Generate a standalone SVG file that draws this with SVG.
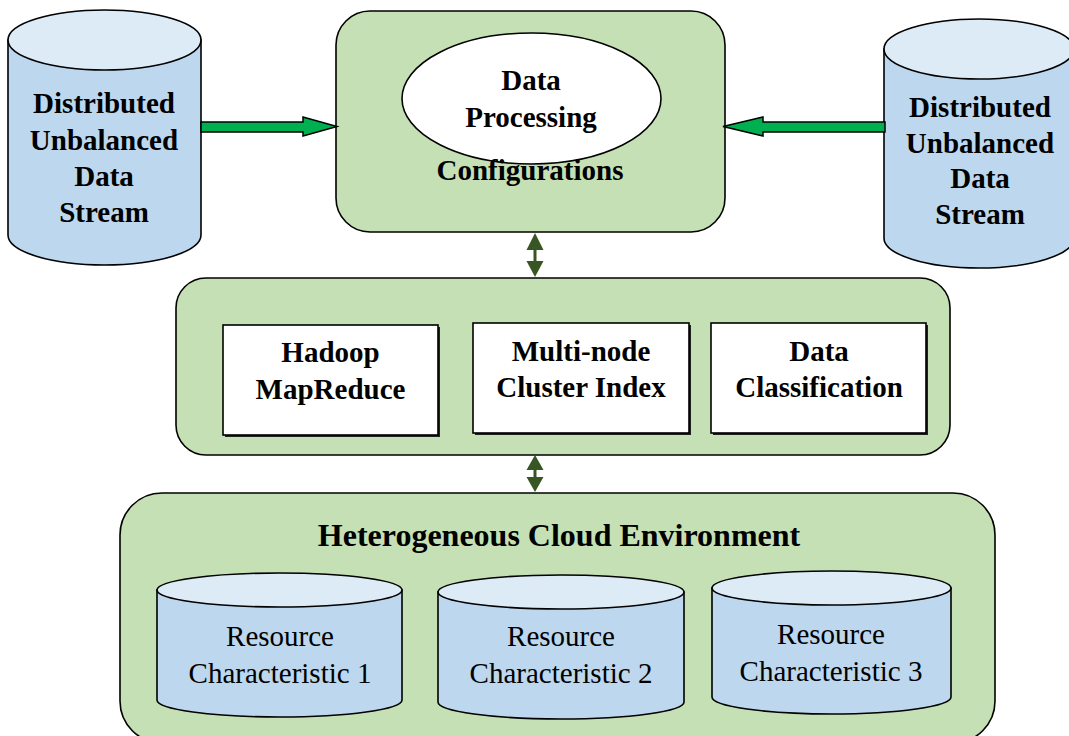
<svg xmlns="http://www.w3.org/2000/svg" width="1069" height="736" viewBox="0 0 1069 736">
  <style>
    .panel { fill: #c5e0b4; stroke: #000; stroke-width: 1.6; }
    .box { fill: #fff; stroke: #000; stroke-width: 1.6; }
    .shadow { fill: #222; }
    .cyl-body { fill: #bdd7ee; stroke: #000; stroke-width: 1.6; }
    .cyl-top { fill: #ddebf7; stroke: #000; stroke-width: 1.6; }
    .bold { font-family: "Liberation Serif", "Times New Roman", serif; font-weight: bold; font-size: 29px; fill: #000; text-anchor: middle; }
    .reg { font-family: "Liberation Serif", "Times New Roman", serif; font-size: 29px; fill: #000; text-anchor: middle; }
    .flow { fill: #00b050; stroke: #000; stroke-width: 1.5; stroke-linejoin: miter; }
    .link { fill: #375623; }
  </style>

  <!-- left data stream source -->
  <g id="stream-left">
    <path class="cyl-body" d="M8,40 V235 A96.5,30 0 0 0 201,235 V40 Z"/>
    <ellipse class="cyl-top" cx="104.5" cy="40" rx="96.5" ry="30"/>
    <text class="bold" x="104" y="113">Distributed</text>
    <text class="bold" x="104" y="150">Unbalanced</text>
    <text class="bold" x="104" y="186">Data</text>
    <text class="bold" x="104" y="222">Stream</text>
  </g>

  <!-- right data stream source -->
  <g id="stream-right">
    <path class="cyl-body" d="M884,49 V238 A95,30 0 0 0 1074,238 V49 Z"/>
    <ellipse class="cyl-top" cx="979" cy="49" rx="95" ry="30"/>
    <text class="bold" x="980" y="117">Distributed</text>
    <text class="bold" x="980" y="153">Unbalanced</text>
    <text class="bold" x="980" y="188">Data</text>
    <text class="bold" x="980" y="224">Stream</text>
  </g>

  <!-- configurations panel -->
  <g id="configurations">
    <rect class="panel" x="336" y="11" width="389" height="221" rx="34"/>
    <ellipse class="box" cx="531.5" cy="98.5" rx="129.5" ry="65.5"/>
    <text class="bold" x="531" y="90">Data</text>
    <text class="bold" x="531" y="127">Processing</text>
    <text class="bold" x="530" y="180">Configurations</text>
  </g>

  <!-- processing layer -->
  <g id="processing">
    <rect class="panel" x="176" y="278" width="774" height="177" rx="30"/>
  </g>
  <g id="hadoop">
    <rect class="shadow" x="225" y="327" width="215" height="110"/>
    <rect class="box" x="223" y="325" width="215" height="110"/>
    <text class="bold" x="330.5" y="362">Hadoop</text>
    <text class="bold" x="330.5" y="399">MapReduce</text>
  </g>
  <g id="cluster-index">
    <rect class="shadow" x="475" y="325" width="216" height="110"/>
    <rect class="box" x="473" y="323" width="216" height="110"/>
    <text class="bold" x="581" y="361">Multi-node</text>
    <text class="bold" x="581" y="397">Cluster Index</text>
  </g>
  <g id="classification">
    <rect class="shadow" x="713" y="325" width="215" height="110"/>
    <rect class="box" x="711" y="323" width="215" height="110"/>
    <text class="bold" x="819" y="361">Data</text>
    <text class="bold" x="819" y="397">Classification</text>
  </g>

  <!-- cloud environment -->
  <g id="cloud">
    <rect class="panel" x="120" y="493" width="875" height="250" rx="42"/>
    <text class="bold" x="559" y="546" style="font-size:32px">Heterogeneous Cloud Environment</text>
  </g>
  <g id="resource-1">
    <path class="cyl-body" d="M157,590 V700 A122.5,17 0 0 0 402,700 V590 Z"/>
    <ellipse class="cyl-top" cx="279.5" cy="590" rx="122.5" ry="17"/>
    <text class="reg" x="280" y="646">Resource</text>
    <text class="reg" x="280" y="683">Characteristic 1</text>
  </g>
  <g id="resource-2">
    <path class="cyl-body" d="M438,592 V702 A123,17 0 0 0 684,702 V592 Z"/>
    <ellipse class="cyl-top" cx="561" cy="592" rx="123" ry="17"/>
    <text class="reg" x="561" y="646">Resource</text>
    <text class="reg" x="561" y="683">Characteristic 2</text>
  </g>
  <g id="resource-3">
    <path class="cyl-body" d="M712,588 V697 A119.5,17 0 0 0 951,697 V588 Z"/>
    <ellipse class="cyl-top" cx="831.5" cy="588" rx="119.5" ry="17"/>
    <text class="reg" x="831" y="644">Resource</text>
    <text class="reg" x="831" y="681">Characteristic 3</text>
  </g>

  <!-- connectors -->
  <g id="connectors">
    <!-- stream inputs -->
    <path class="flow" d="M201,122 H303 V117 L337,126.5 L303,136 V132 H201 Z"/>
    <path class="flow" d="M885,122 H763 V117 L723,126.5 L763,136 V132 H885 Z"/>
    <!-- two-way links between layers -->
    <path class="link" d="M535,233 L543.5,250 H536.5 V261 H543.5 L535,277 L526.5,261 H533.5 V250 H526.5 Z"/>
    <path class="link" d="M535,455 L543.5,470 H536.5 V477 H543.5 L535,492 L526.5,477 H533.5 V470 H526.5 Z"/>
  </g>
</svg>
